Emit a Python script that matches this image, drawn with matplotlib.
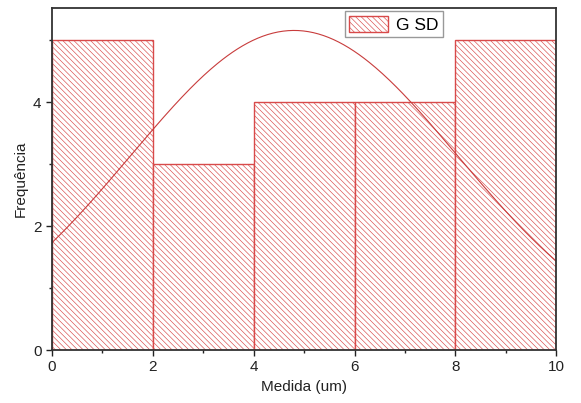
import numpy as np
import matplotlib.pyplot as plt

plt.rcParams['font.family'] = ['Liberation Sans', 'DejaVu Sans']
plt.rcParams['hatch.linewidth'] = 0.45

bin_left = [0, 2, 4, 6, 8]
bin_width = 2
counts = [5, 3, 4, 4, 5]

# fitted normal curve (scaled to counts * bin width)
fit_mean = 4.8
fit_sd = 3.25
fit_area = 42

red = '#d84a4a'

fig = plt.figure(figsize=(5.81, 4.03), dpi=100)
ax = fig.add_axes([0.0895, 0.1315, 0.868, 0.849])

ax.bar(bin_left, counts, width=bin_width, align='edge', facecolor='white',
       edgecolor=red, linewidth=1.0, hatch='\\' * 6, label='G SD')

x = np.linspace(0, 10, 300)
y = fit_area / (fit_sd * np.sqrt(2 * np.pi)) * np.exp(-(x - fit_mean) ** 2 / (2 * fit_sd ** 2))
ax.plot(x, y, color='#c83c3c', linewidth=0.8)

ax.set_xlim(0, 10)
ax.set_ylim(0, 5.52)
ax.set_xticks([0, 2, 4, 6, 8, 10])
ax.set_xticks([1, 3, 5, 7, 9], minor=True)
ax.set_yticks([0, 2, 4])
ax.set_yticks([1, 3, 5], minor=True)
ax.tick_params(which='major', direction='out', length=4, width=1, labelsize=11, colors='#222222')
ax.tick_params(which='minor', direction='out', length=2.5, width=1, colors='#222222')

for s in ax.spines.values():
    s.set_color('#333333')
    s.set_linewidth(1.3)

ax.set_xlabel('Medida (um)', fontsize=11, color='#222222')
ax.set_ylabel('Frequência', fontsize=11, color='#222222')

ax.legend(loc='upper left', bbox_to_anchor=(0.581, 0.99), borderaxespad=0,
          fontsize=12.5, frameon=True, fancybox=False, edgecolor='#999999',
          framealpha=1, handlelength=2.2, handleheight=1.1, borderpad=0.25,
          handletextpad=0.5)

fig.savefig('out.png', dpi=100)
